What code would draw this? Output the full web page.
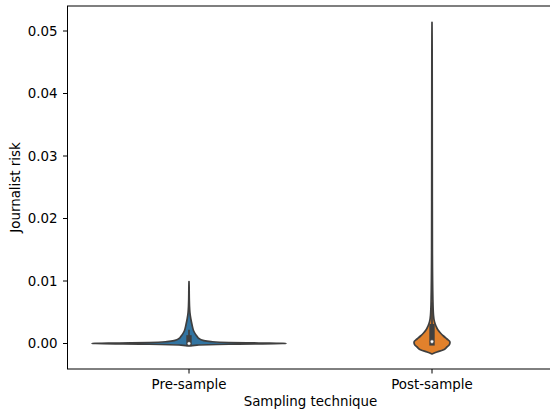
<!DOCTYPE html>
<html lang="en">
  <head>
    <meta charset="UTF-8" />
    <title>Violin plot</title>
    <script src="https://d3js.org/d3.v7.min.js"></script>
    <style>
      body { margin: 0; background: #fff; }
      text { font-family: "DejaVu Sans", sans-serif; }
    </style>
  </head>
  <body></body>
  <script>
    var categories = ["Pre-sample", "Post-sample"];

    // kde profile: risk level -> relative half-width
    var preRisk = [-0.0004, -0.00025, -0.00012, 0, 0.00008, 0.00016, 0.0003, 0.0005, 0.0008, 0.0011,
      0.0015, 0.002, 0.003, 0.004, 0.005, 0.006, 0.007, 0.008, 0.009, 0.0099];
    var preDensity = [0, 0.082, 0.41, 1, 0.72, 0.41, 0.226, 0.144, 0.103, 0.085,
      0.066, 0.048, 0.031, 0.018, 0.009, 0.005, 0.003, 0.002, 0.0015, 0];

    var postRisk = [-0.00168, -0.00136, -0.00104, -0.00056, -0.00016, 0.00024, 0.00072, 0.0012, 0.00168,
      0.00216, 0.0028, 0.00344, 0.00456, 0.007, 0.015, 0.031, 0.047, 0.0514];
    var postDensity = [0, 0.051, 0.113, 0.154, 0.18, 0.185, 0.154, 0.118, 0.087,
      0.062, 0.041, 0.026, 0.015, 0.009, 0.004, 0.0026, 0.0015, 0];

    // inner box stats
    var whiskerLow = [0, 0];
    var quartile1 = [0, 0.0001];
    var medians = [0, 0.0003];
    var quartile3 = [0.0009, 0.0027];
    var whiskerHigh = [0.0022, 0.0066];

    var yTicks = [0, 0.01, 0.02, 0.03, 0.04, 0.05];
    var colors = ["#3274a1", "#e1812c"];
    var gray = "#3f3f3f";

    var margin = { top: 6, left: 67.5, right: 553.5, bottom: 369 };
    var fontSize = 13.4;

    var svg = d3
      .select("body")
      .append("svg")
      .attr("width", 550)
      .attr("height", 414);

    var x = d3
      .scaleBand()
      .domain(categories)
      .range([margin.left, margin.right])
      .padding(0);

    var y = d3
      .scaleLinear()
      .domain([-0.00408, 0.054])
      .range([margin.bottom, margin.top]);

    var w = d3
      .scaleLinear()
      .domain([0, 1])
      .range([0, x.bandwidth() * 0.4]);

    var profiles = [
      preRisk.map((r, i) => ({ r: r, d: preDensity[i] })),
      postRisk.map((r, i) => ({ r: r, d: postDensity[i] }))
    ];

    var plot = svg.append("g");

    categories.forEach(function (c, i) {
      var cx = x(c) + x.bandwidth() / 2;
      var area = d3
        .area()
        .curve(d3.curveMonotoneY)
        .y(d => y(d.r))
        .x0(d => cx - w(d.d))
        .x1(d => cx + w(d.d));

      plot
        .append("path")
        .datum(profiles[i])
        .attr("d", area)
        .attr("fill", colors[i])
        .attr("stroke", gray)
        .attr("stroke-width", 1.7)
        .attr("stroke-linejoin", "round");

      // whiskers
      plot
        .append("line")
        .attr("x1", cx)
        .attr("x2", cx)
        .attr("y1", y(whiskerLow[i]))
        .attr("y2", y(whiskerHigh[i]))
        .attr("stroke", gray)
        .attr("stroke-width", 1.7);

      // box
      plot
        .append("line")
        .attr("x1", cx)
        .attr("x2", cx)
        .attr("y1", y(quartile1[i]))
        .attr("y2", y(quartile3[i]))
        .attr("stroke", gray)
        .attr("stroke-width", 5.4)
        .attr("stroke-linecap", "square");

      // median
      plot
        .append("circle")
        .attr("cx", cx)
        .attr("cy", y(medians[i]))
        .attr("r", 1.8)
        .attr("fill", "white")
        .attr("stroke", gray)
        .attr("stroke-width", 0.6);
    });

    // y axis
    var yAxis = svg.append("g");
    yAxis
      .selectAll("line")
      .data(yTicks)
      .join("line")
      .attr("x1", margin.left - 4.5)
      .attr("x2", margin.left)
      .attr("y1", d => y(d))
      .attr("y2", d => y(d))
      .attr("stroke", "black")
      .attr("stroke-width", 1);
    yAxis
      .selectAll("text")
      .data(yTicks)
      .join("text")
      .attr("x", margin.left - 10)
      .attr("y", d => y(d))
      .attr("dy", "0.36em")
      .attr("text-anchor", "end")
      .attr("font-size", fontSize)
      .attr("fill", "black")
      .text(d3.format(".2f"));

    // x axis
    var xAxis = svg.append("g");
    xAxis
      .selectAll("line")
      .data(categories)
      .join("line")
      .attr("x1", d => x(d) + x.bandwidth() / 2)
      .attr("x2", d => x(d) + x.bandwidth() / 2)
      .attr("y1", margin.bottom)
      .attr("y2", margin.bottom + 4.5)
      .attr("stroke", "black")
      .attr("stroke-width", 1);
    xAxis
      .selectAll("text")
      .data(categories)
      .join("text")
      .attr("x", d => x(d) + x.bandwidth() / 2)
      .attr("y", 388.5)
      .attr("text-anchor", "middle")
      .attr("font-size", fontSize)
      .attr("fill", "black")
      .text(d => d);

    // frame
    svg
      .append("rect")
      .attr("x", margin.left)
      .attr("y", margin.top)
      .attr("width", margin.right - margin.left)
      .attr("height", margin.bottom - margin.top)
      .attr("fill", "none")
      .attr("stroke", "black")
      .attr("stroke-width", 1);

    svg
      .append("text")
      .attr("x", (margin.left + margin.right) / 2)
      .attr("y", 406)
      .attr("text-anchor", "middle")
      .attr("font-size", fontSize)
      .text("Sampling technique");

    svg
      .append("text")
      .attr("transform", `translate(19.5, ${(margin.top + margin.bottom) / 2}) rotate(-90)`)
      .attr("text-anchor", "middle")
      .attr("font-size", fontSize)
      .text("Journalist risk");
  </script>
</html>
